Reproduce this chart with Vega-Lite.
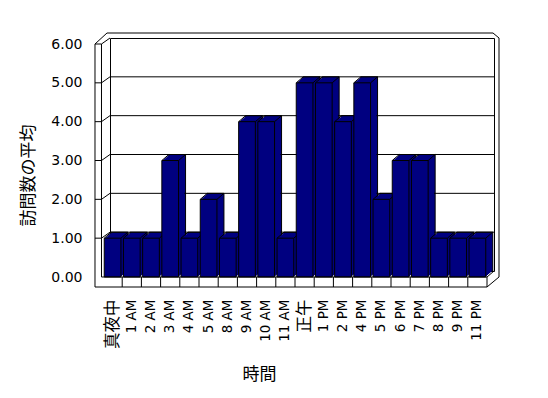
{
  "$schema": "https://vega.github.io/schema/vega-lite/v6.json",
  "width": 384,
  "height": 233,
  "autosize": {"type": "none"},
  "padding": {"left": 110, "top": 38, "right": 54, "bottom": 127},
  "background": "white",
  "config": {
    "view": {"stroke": "black", "strokeWidth": 1},
    "rule": {"color": "black", "strokeWidth": 1},
    "bar": {"fill": "#000080", "stroke": "black", "strokeWidth": 1}
  },
  "resolve": {"axis": {"x": "independent", "y": "independent"}},
  "datasets": {
    "hours": [
      {"hour": "真夜中", "visits": 1},
      {"hour": "1 AM", "visits": 1},
      {"hour": "2 AM", "visits": 1},
      {"hour": "3 AM", "visits": 3},
      {"hour": "4 AM", "visits": 1},
      {"hour": "5 AM", "visits": 2},
      {"hour": "8 AM", "visits": 1},
      {"hour": "9 AM", "visits": 4},
      {"hour": "10 AM", "visits": 4},
      {"hour": "11 AM", "visits": 1},
      {"hour": "正午", "visits": 5},
      {"hour": "1 PM", "visits": 5},
      {"hour": "2 PM", "visits": 4},
      {"hour": "4 PM", "visits": 5},
      {"hour": "5 PM", "visits": 2},
      {"hour": "6 PM", "visits": 3},
      {"hour": "7 PM", "visits": 3},
      {"hour": "8 PM", "visits": 1},
      {"hour": "9 PM", "visits": 1},
      {"hour": "11 PM", "visits": 1}
    ],
    "grid": [{"g": 1}, {"g": 2}, {"g": 3}, {"g": 4}, {"g": 5}, {"g": 6}],
    "frame": [{"part": "frame"}]
  },
  "data": {"name": "hours"},
  "layer": [
    {
      "mark": {"type": "bar", "fill": "#000080", "stroke": "black"},
      "encoding": {
        "x": {
          "field": "hour", "type": "nominal",
          "scale": {"domain": ["真夜中","1 AM","2 AM","3 AM","4 AM","5 AM","8 AM","9 AM","10 AM","11 AM","正午","1 PM","2 PM","4 PM","5 PM","6 PM","7 PM","8 PM","9 PM","11 PM"], "paddingInner": 0.13, "paddingOuter": 0.065},
          "axis": {
            "title": "時間",
            "titleFont": "Noto Sans CJK JP", "titleFontSize": 17, "titleFontWeight": "normal", "titleColor": "black",
            "titleX": 149, "titleY": 103, "titleAlign": "center", "titleBaseline": "middle", "titleAngle": 0,
            "domain": false, "ticks": false, "grid": false,
            "labelAngle": 270, "labelPadding": 28, "labelOffset": -7,
            "labelFont": {"condition": {"test": "datum.value == '真夜中' || datum.value == '正午'", "value": "Noto Sans CJK JP"}, "value": "DejaVu Sans"},
            "labelFontSize": {"condition": {"test": "datum.value == '真夜中' || datum.value == '正午'", "value": 16.5}, "value": 13.5},
            "labelColor": "black", "labelOverlap": false
          }
        },
        "y": {
          "field": "visits", "type": "quantitative",
          "scale": {"domain": [0, 6], "nice": false},
          "axis": {
            "title": "訪問数の平均",
            "titleFont": "Noto Sans CJK JP", "titleFontSize": 17, "titleFontWeight": "normal", "titleColor": "black",
            "titleX": -82, "titleY": 137, "titleAlign": "center", "titleBaseline": "middle", "titleAngle": 270,
            "domain": false, "ticks": false, "grid": false,
            "values": [0, 1, 2, 3, 4, 5, 6], "format": ".2f",
            "labelPadding": 28, "labelOffset": 6, "labelOverlap": false,
            "labelFont": "DejaVu Sans", "labelFontSize": 14, "labelColor": "black"
          }
        }
      }
    },
    {
      "data": {"name": "grid"},
      "transform": [{"filter": "datum.g < 6"}],
      "mark": {"type": "rule"},
      "encoding": {"y": {"field": "g", "type": "quantitative", "axis": null}}
    },
    {
      "data": {"name": "grid"},
      "mark": {"type": "rule", "xOffset": -16.25, "x2Offset": -9.75, "yOffset": 6, "y2Offset": 6},
      "encoding": {
        "x": {"datum": "真夜中", "bandPosition": 0, "axis": null},
        "x2": {"datum": "真夜中", "bandPosition": 0},
        "y": {"field": "g", "type": "quantitative", "axis": null},
        "y2": {"field": "g"}
      }
    },
    {
      "data": {"name": "grid"},
      "mark": {"type": "rule", "xOffset": -9.75, "x2Offset": -1.25, "yOffset": 6, "y2Offset": 0},
      "encoding": {
        "x": {"datum": "真夜中", "bandPosition": 0, "axis": null},
        "x2": {"datum": "真夜中", "bandPosition": 0},
        "y": {"field": "g", "type": "quantitative", "axis": null},
        "y2": {"field": "g"}
      }
    },
    {
      "data": {"name": "frame"},
      "mark": {"type": "rule", "xOffset": -16.25, "x2Offset": -16.25, "yOffset": 6, "y2Offset": 16},
      "encoding": {
        "x": {"datum": "真夜中", "bandPosition": 0, "axis": null},
        "x2": {"datum": "真夜中", "bandPosition": 0},
        "y": {"datum": 6, "axis": null},
        "y2": {"datum": 0}
      }
    },
    {
      "data": {"name": "frame"},
      "mark": {"type": "rule", "xOffset": -9.75, "x2Offset": -9.75, "yOffset": 6, "y2Offset": 6},
      "encoding": {
        "x": {"datum": "真夜中", "bandPosition": 0, "axis": null},
        "x2": {"datum": "真夜中", "bandPosition": 0},
        "y": {"datum": 6, "axis": null},
        "y2": {"datum": 0}
      }
    },
    {
      "data": {"name": "frame"},
      "mark": {"type": "rule", "xOffset": -16.25, "x2Offset": -4.25, "yOffset": 6, "y2Offset": -5},
      "encoding": {
        "x": {"datum": "真夜中", "bandPosition": 0, "axis": null},
        "x2": {"datum": "真夜中", "bandPosition": 0},
        "y": {"datum": 6, "axis": null},
        "y2": {"datum": 6}
      }
    },
    {
      "data": {"name": "frame"},
      "mark": {"type": "rule", "xOffset": -4.25, "x2Offset": 0.25, "yOffset": -5, "y2Offset": -5},
      "encoding": {
        "x": {"datum": "真夜中", "bandPosition": 0, "axis": null},
        "x2": {"datum": "11 PM", "bandPosition": 1},
        "y": {"datum": 6, "axis": null},
        "y2": {"datum": 6}
      }
    },
    {
      "data": {"name": "frame"},
      "mark": {"type": "rule", "xOffset": 0.25, "x2Offset": 6.25, "yOffset": -5, "y2Offset": 0},
      "encoding": {
        "x": {"datum": "11 PM", "bandPosition": 1, "axis": null},
        "x2": {"datum": "11 PM", "bandPosition": 1},
        "y": {"datum": 6, "axis": null},
        "y2": {"datum": 6}
      }
    },
    {
      "data": {"name": "frame"},
      "mark": {"type": "rule", "xOffset": 6.25, "x2Offset": 6.25, "yOffset": 0, "y2Offset": 6},
      "encoding": {
        "x": {"datum": "11 PM", "bandPosition": 1, "axis": null},
        "x2": {"datum": "11 PM", "bandPosition": 1},
        "y": {"datum": 6, "axis": null},
        "y2": {"datum": 0}
      }
    },
    {
      "mark": {"type": "bar", "fill": "#000080", "strokeWidth": 0, "xOffset": -1.2, "yOffset": 1, "y2Offset": 1},
      "encoding": {"x": {"field": "hour", "type": "nominal", "axis": null}, "y": {"field": "visits", "type": "quantitative", "axis": null}}
    },
    {
      "mark": {"type": "bar", "fill": "#000080", "strokeWidth": 0, "xOffset": -2.3, "yOffset": 2, "y2Offset": 2},
      "encoding": {"x": {"field": "hour", "type": "nominal", "axis": null}, "y": {"field": "visits", "type": "quantitative", "axis": null}}
    },
    {
      "mark": {"type": "bar", "fill": "#000080", "strokeWidth": 0, "xOffset": -3.5, "yOffset": 3, "y2Offset": 3},
      "encoding": {"x": {"field": "hour", "type": "nominal", "axis": null}, "y": {"field": "visits", "type": "quantitative", "axis": null}}
    },
    {
      "mark": {"type": "bar", "fill": "#000080", "strokeWidth": 0, "xOffset": -4.7, "yOffset": 4, "y2Offset": 4},
      "encoding": {"x": {"field": "hour", "type": "nominal", "axis": null}, "y": {"field": "visits", "type": "quantitative", "axis": null}}
    },
    {
      "mark": {"type": "bar", "fill": "#000080", "strokeWidth": 0, "xOffset": -5.8, "yOffset": 5, "y2Offset": 5},
      "encoding": {"x": {"field": "hour", "type": "nominal", "axis": null}, "y": {"field": "visits", "type": "quantitative", "axis": null}}
    },
    {
      "mark": {"type": "rule", "xOffset": -7, "x2Offset": 0, "yOffset": 6, "y2Offset": 0},
      "encoding": {
        "x": {"field": "hour", "type": "nominal", "bandPosition": 0, "axis": null},
        "x2": {"field": "hour", "bandPosition": 0},
        "y": {"field": "visits", "type": "quantitative", "axis": null},
        "y2": {"field": "visits"}
      }
    },
    {
      "mark": {"type": "rule", "xOffset": -7, "x2Offset": 0, "yOffset": 6, "y2Offset": 0},
      "encoding": {
        "x": {"field": "hour", "type": "nominal", "bandPosition": 1, "axis": null},
        "x2": {"field": "hour", "bandPosition": 1},
        "y": {"field": "visits", "type": "quantitative", "axis": null},
        "y2": {"field": "visits"}
      }
    },
    {
      "mark": {"type": "bar", "fill": "#000080", "stroke": "black", "xOffset": -7, "yOffset": 6, "y2Offset": 6},
      "encoding": {"x": {"field": "hour", "type": "nominal", "axis": null}, "y": {"field": "visits", "type": "quantitative", "axis": null}}
    },
    {
      "data": {"name": "frame"},
      "mark": {"type": "rule", "xOffset": -9.75, "x2Offset": -5.75, "yOffset": 6, "y2Offset": 6},
      "encoding": {
        "x": {"datum": "真夜中", "bandPosition": 0, "axis": null},
        "x2": {"datum": "11 PM", "bandPosition": 1},
        "y": {"datum": 0, "axis": null},
        "y2": {"datum": 0}
      }
    },
    {
      "data": {"name": "frame"},
      "mark": {"type": "rule", "xOffset": -16.25, "x2Offset": -5.75, "yOffset": 16, "y2Offset": 16},
      "encoding": {
        "x": {"datum": "真夜中", "bandPosition": 0, "axis": null},
        "x2": {"datum": "11 PM", "bandPosition": 1},
        "y": {"datum": 0, "axis": null},
        "y2": {"datum": 0}
      }
    },
    {
      "mark": {"type": "rule", "xOffset": -5.75, "x2Offset": -5.75, "yOffset": 6, "y2Offset": 16},
      "encoding": {
        "x": {"field": "hour", "type": "nominal", "bandPosition": 1, "axis": null},
        "x2": {"field": "hour", "bandPosition": 1},
        "y": {"datum": 0, "axis": null},
        "y2": {"datum": 0}
      }
    },
    {
      "data": {"name": "frame"},
      "mark": {"type": "rule", "xOffset": -5.75, "x2Offset": 1.25, "yOffset": 6, "y2Offset": 0},
      "encoding": {
        "x": {"datum": "11 PM", "bandPosition": 1, "axis": null},
        "x2": {"datum": "11 PM", "bandPosition": 1},
        "y": {"datum": 0, "axis": null},
        "y2": {"datum": 0}
      }
    },
    {
      "data": {"name": "frame"},
      "mark": {"type": "rule", "xOffset": -5.75, "x2Offset": 6.25, "yOffset": 16, "y2Offset": 6},
      "encoding": {
        "x": {"datum": "11 PM", "bandPosition": 1, "axis": null},
        "x2": {"datum": "11 PM", "bandPosition": 1},
        "y": {"datum": 0, "axis": null},
        "y2": {"datum": 0}
      }
    }
  ]
}
